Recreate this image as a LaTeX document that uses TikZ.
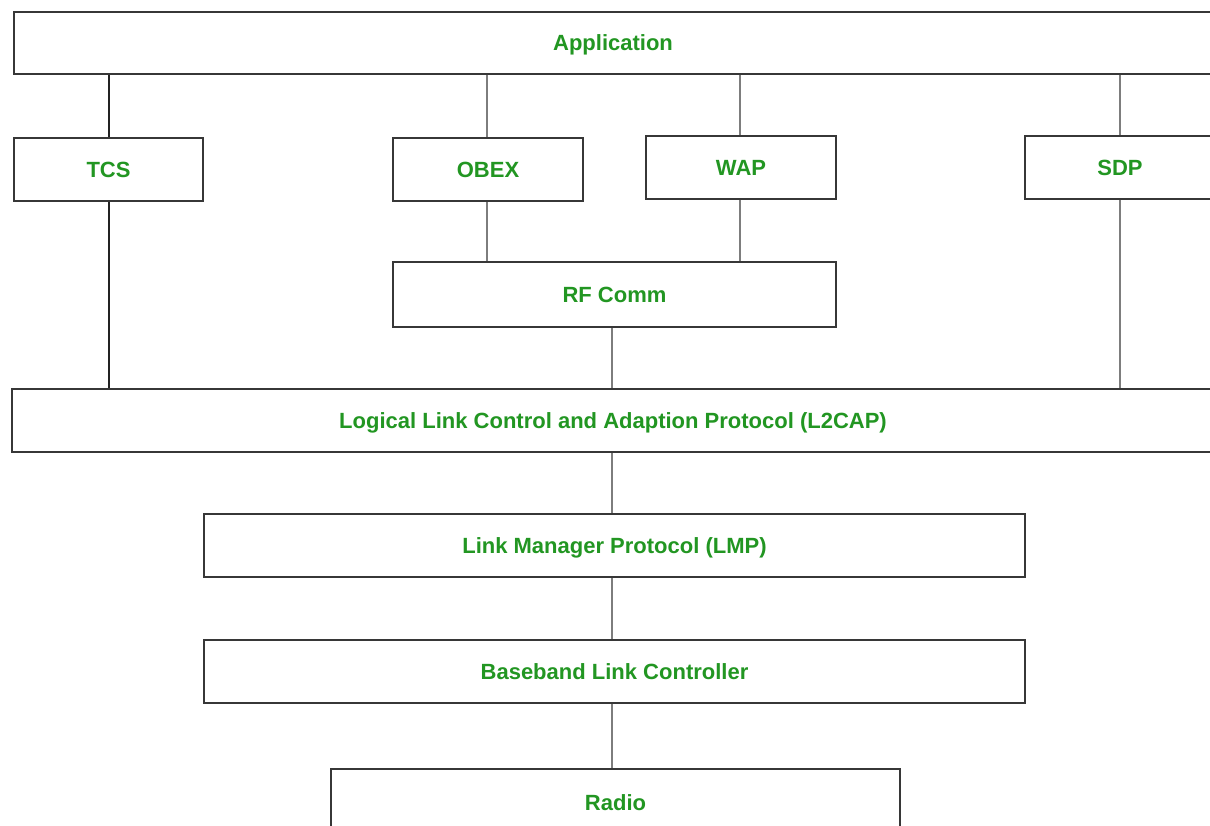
\documentclass[tikz,border=0pt]{standalone}
\usepackage{fontspec}
\setmainfont{Liberation Sans}
\definecolor{labelgreen}{RGB}{34,150,34}
\definecolor{frame}{RGB}{55,55,55}
\definecolor{linkgray}{RGB}{125,125,125}
\definecolor{linkdark}{RGB}{35,35,35}
\tikzset{
  layer/.style={draw=frame, line width=1.6pt, fill=white, inner sep=0pt,
    font=\fontsize{22}{22}\selectfont\bfseries, text=labelgreen,
    text height=15.8pt, text depth=0pt},
  link/.style={draw=linkgray, line width=2.6pt},
  darklink/.style={draw=linkdark, line width=1.8pt}
}
\begin{document}
\begin{tikzpicture}[x=1pt,y=-1pt]
  \useasboundingbox (0,0) rectangle (1210,825);
  \clip (0,0) rectangle (1210,825);

  % protocol layers, top to bottom
  \node[layer, minimum width=1198pt, minimum height=62pt] (app) at (613,43) {Application};
  \node[layer, minimum width=189pt, minimum height=63pt] (tcs)  at (108.5,169.5) {TCS};
  \node[layer, minimum width=190pt, minimum height=63pt] (obex) at (488,169.5) {OBEX};
  \node[layer, minimum width=190pt, minimum height=63pt] (wap)  at (741,167.5) {WAP};
  \node[layer, minimum width=190pt, minimum height=63pt] (sdp)  at (1120,167.5) {SDP};
  \node[layer, minimum width=443pt, minimum height=65pt] (rf)   at (614.5,294.5) {RF Comm};
  \node[layer, minimum width=1202pt, minimum height=63pt] (l2cap) at (613,420.5) {Logical Link Control and Adaption Protocol (L2CAP)};
  \node[layer, minimum width=821pt, minimum height=63pt] (lmp)  at (614.5,545.5) {Link Manager Protocol (LMP)};
  \node[layer, minimum width=821pt, minimum height=63pt] (bb)   at (614.5,671.5) {Baseband Link Controller};
  \node[layer, minimum width=569pt, minimum height=68pt] (radio) at (615.5,803) {Radio};

  % connections between layers
  \coordinate (tcsx) at (109,0);
  \coordinate (obexx) at (487,0);
  \coordinate (wapx) at (740,0);
  \coordinate (sdpx) at (1120,0);
  \coordinate (midx) at (612,0);

  \draw[darklink] (tcsx |- app.south) -- (tcsx |- tcs.north);
  \draw[darklink] (tcsx |- tcs.south) -- (tcsx |- l2cap.north);
  \draw[link] (obexx |- app.south) -- (obexx |- obex.north);
  \draw[link] (obexx |- obex.south) -- (obexx |- rf.north);
  \draw[link] (wapx |- app.south) -- (wapx |- wap.north);
  \draw[link] (wapx |- wap.south) -- (wapx |- rf.north);
  \draw[link] (sdpx |- app.south) -- (sdpx |- sdp.north);
  \draw[link] (sdpx |- sdp.south) -- (sdpx |- l2cap.north);
  \draw[link] (midx |- rf.south) -- (midx |- l2cap.north);
  \draw[link] (midx |- l2cap.south) -- (midx |- lmp.north);
  \draw[link] (midx |- lmp.south) -- (midx |- bb.north);
  \draw[link] (midx |- bb.south) -- (midx |- radio.north);
\end{tikzpicture}
\end{document}
